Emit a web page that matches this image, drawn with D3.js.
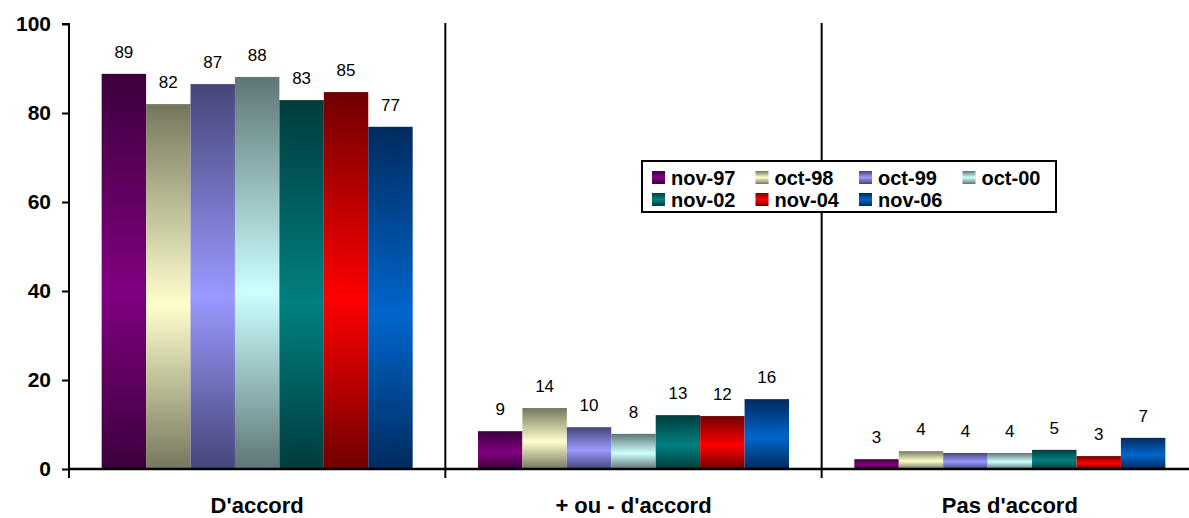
<!DOCTYPE html>
<html>
<head>
<meta charset="utf-8">
<script src="https://cdn.jsdelivr.net/npm/d3@7"></script>
<style>
  html, body { margin: 0; padding: 0; background: #fff; overflow: hidden; }
  svg { display: block; font-family: Arial, "Liberation Sans", sans-serif; }
</style>
</head>
<body>
<svg id="chart" width="1189" height="518"></svg>
<script>
// ---- Data ----
const categories = ["D'accord", "+ ou - d'accord", "Pas d'accord"];
const seriesNames = ["nov-97", "oct-98", "oct-99", "oct-00", "nov-02", "nov-04", "nov-06"];
// bar heights (as drawn) per series, one value per category
const nov97 = [88.8, 8.5, 2.2];
const oct98 = [82.0, 13.7, 4.0];
const oct99 = [86.5, 9.4, 3.6];
const oct00 = [88.1, 7.9, 3.6];
const nov02 = [82.9, 12.1, 4.3];
const nov04 = [84.7, 11.9, 2.9];
const nov06 = [76.9, 15.7, 7.0];
// printed value labels
const lab97 = [89, 9, 3];
const lab98 = [82, 14, 4];
const lab99 = [87, 10, 4];
const lab00 = [88, 8, 4];
const lab02 = [83, 13, 5];
const lab04 = [85, 12, 3];
const lab06 = [77, 16, 7];
const yTicks = [0, 20, 40, 60, 80, 100];

const seriesValues = [nov97, oct98, oct99, oct00, nov02, nov04, nov06];
const seriesLabels = [lab97, lab98, lab99, lab00, lab02, lab04, lab06];
const baseColors = ["#800080", "#FFFFCC", "#9999FF", "#CCFFFF", "#008080", "#FF0000", "#0066CC"];
const darkColors = ["#3c003c", "#76765e", "#46467a", "#5e7676", "#003c3c", "#700000", "#002a5e"];

// ---- Layout ----
const svg = d3.select("#chart");
const mLeft = 69, mRight = 1198, mTop = 24, mBottom = 469;

const x0 = d3.scaleBand().domain(categories).range([mLeft, mRight]).paddingInner(0).paddingOuter(0);
const x1 = d3.scaleBand().domain(seriesNames).range([0, x0.bandwidth()]).paddingOuter(0.735).paddingInner(0);
const y = d3.scaleLinear().domain([0, 100]).range([mBottom, mTop]);

// gradients
const defs = svg.append("defs");
seriesNames.forEach((s, i) => {
  const g = defs.append("linearGradient").attr("id", "g" + i)
    .attr("x1", 0).attr("y1", 0).attr("x2", 0).attr("y2", 1);
  g.append("stop").attr("offset", "0%").attr("stop-color", darkColors[i]);
  g.append("stop").attr("offset", "55%").attr("stop-color", baseColors[i]);
  g.append("stop").attr("offset", "100%").attr("stop-color", darkColors[i]);
  const h = defs.append("linearGradient").attr("id", "h" + i)
    .attr("x1", 0).attr("y1", 0).attr("x2", 0).attr("y2", 1);
  h.append("stop").attr("offset", "0%").attr("stop-color", darkColors[i]);
  h.append("stop").attr("offset", "50%").attr("stop-color", baseColors[i]);
  h.append("stop").attr("offset", "100%").attr("stop-color", darkColors[i]);
});

// bars
const groups = svg.append("g").selectAll("g").data(categories).join("g")
  .attr("transform", d => `translate(${x0(d)},0)`);

groups.each(function(cat, ci) {
  const g = d3.select(this);
  seriesNames.forEach((s, si) => {
    const v = seriesValues[si][ci];
    g.append("rect")
      .attr("x", x1(s))
      .attr("y", y(v))
      .attr("width", x1.bandwidth())
      .attr("height", y(0) - y(v))
      .attr("fill", `url(#g${si})`);
    g.append("text")
      .attr("x", x1(s) + x1.bandwidth() / 2)
      .attr("y", y(v) - 16)
      .attr("text-anchor", "middle")
      .attr("font-size", "17px")
      .attr("fill", "#000")
      .text(seriesLabels[si][ci]);
  });
});

// category separators
const seps = categories.slice(1).map(c => x0(c));
svg.append("g").selectAll("line").data(seps).join("line")
  .attr("x1", d => d).attr("x2", d => d)
  .attr("y1", mTop - 1).attr("y2", mBottom + 9)
  .attr("stroke", "#000").attr("stroke-width", 2);

// y axis
const yAxis = d3.axisLeft(y).tickValues(yTicks).tickSize(7).tickPadding(11);
const ya = svg.append("g").attr("transform", `translate(${mLeft},0)`).call(yAxis);
ya.select(".domain").attr("stroke", "#000").attr("stroke-width", 2)
  .attr("d", `M-7,${mTop}H0V${mBottom + 9}`);
ya.selectAll(".tick line").attr("stroke", "#000").attr("stroke-width", 2);
ya.selectAll(".tick text").attr("font-size", "21px").attr("font-weight", "bold")
  .attr("fill", "#000").attr("font-family", "Arial, 'Liberation Sans', sans-serif");

// x axis
const xAxis = d3.axisBottom(x0).tickSize(0).tickPadding(28);
const xa = svg.append("g").attr("transform", `translate(0,${mBottom})`).call(xAxis);
xa.select(".domain").attr("stroke", "#000").attr("stroke-width", 2.5)
  .attr("d", `M${mLeft},0H${mRight}`);
xa.selectAll(".tick text").attr("font-size", "22px").attr("font-weight", "bold")
  .attr("fill", "#000").attr("font-family", "Arial, 'Liberation Sans', sans-serif");

// legend
const lg = svg.append("g").attr("transform", "translate(642,161)");
lg.append("rect").attr("x", 0).attr("y", 0).attr("width", 414).attr("height", 51)
  .attr("fill", "#fff").attr("stroke", "#000").attr("stroke-width", 2);
seriesNames.forEach((s, i) => {
  const col = i % 4, row = Math.floor(i / 4);
  const gx = 10 + col * 103.5, gy = 10 + row * 22;
  lg.append("rect").attr("x", gx).attr("y", gy).attr("width", 13).attr("height", 13)
    .attr("fill", `url(#h${i})`);
  lg.append("text").attr("x", gx + 19).attr("y", gy + 14)
    .attr("font-size", "20px").attr("font-weight", "bold").attr("fill", "#000")
    .text(s);
});
</script>
</body>
</html>
